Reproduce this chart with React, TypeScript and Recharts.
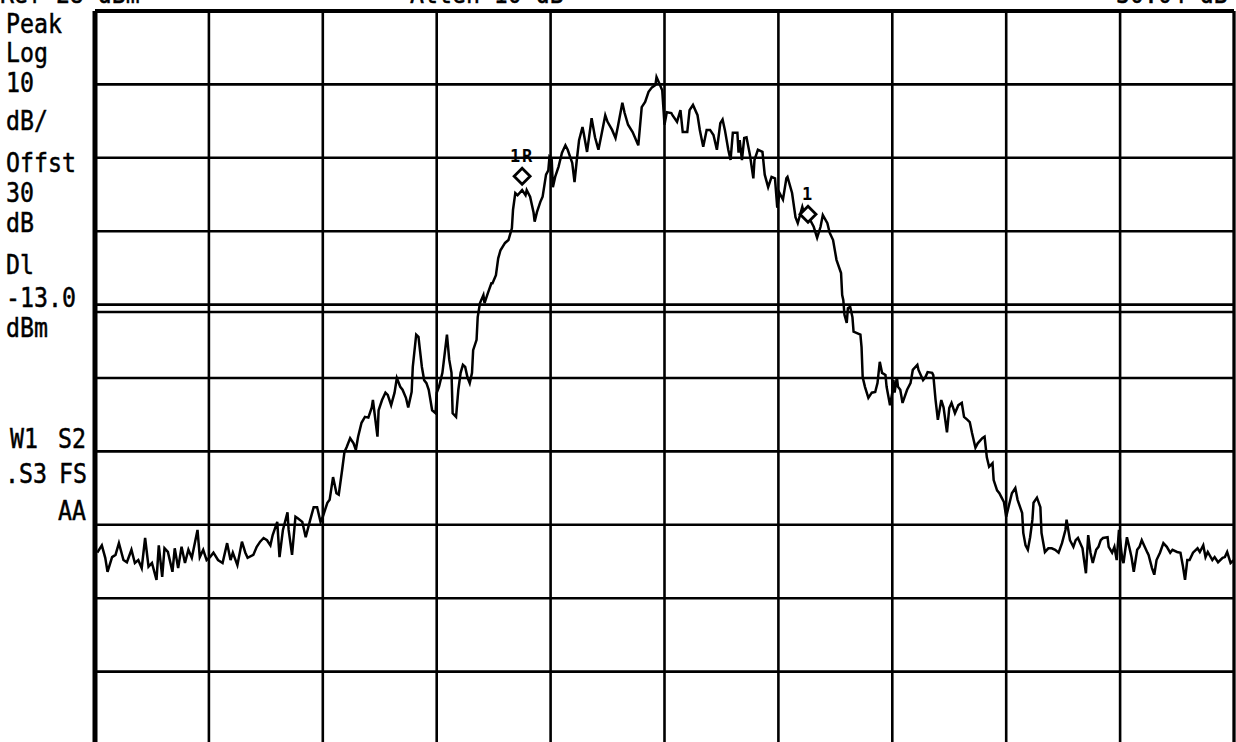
import React from "react";
import {
  ComposedChart,
  Line,
  XAxis,
  YAxis,
  CartesianGrid,
  ReferenceLine,
  ReferenceDot,
} from "recharts";

// trace points: x in 1/100 division (0..1000 across the screen), level in dBm
const freqPts = [
  2, 6, 9, 11, 15, 18, 21, 25, 28, 32, 35, 38, 41, 44, 47, 50, 54, 56, 59, 61,
  64, 68, 70, 73, 76, 79, 82, 85, 90, 92, 95, 98, 101, 104, 108, 112, 116, 119,
  121, 125, 129, 132, 134, 139, 142, 145, 148, 151, 154, 156, 160, 162, 165,
  169, 170, 173, 176, 178, 182, 185, 189, 192, 195, 198, 200, 204, 206, 209,
  212, 214, 217, 219, 221, 224, 227, 229, 231, 234, 237, 240, 243, 244, 248,
  249, 252, 255, 257, 260, 263, 265, 268, 270, 273, 275, 278, 279, 282, 284,
  285, 287, 289, 291, 293, 296, 299, 300, 302, 305, 306, 309, 311, 313, 314,
  317, 319, 321, 323, 325, 327, 329, 331, 332, 335, 336, 338, 341, 342, 345,
  348, 349, 352, 354, 356, 360, 363, 366, 367, 369, 371, 375, 378, 379, 382,
  385, 386, 388, 391, 393, 396, 398, 399, 401, 402, 404, 407, 410, 413, 415,
  419, 421, 423, 425, 428, 429, 432, 435, 436, 439, 442, 445, 448, 450, 454,
  457, 459, 463, 465, 468, 472, 477, 480, 483, 486, 489, 492, 493, 495, 498,
  500, 502, 506, 507, 511, 514, 516, 520, 522, 525, 529, 531, 534, 537, 540,
  543, 546, 549, 551, 553, 556, 558, 560, 564, 565, 566, 568, 570, 572, 575,
  578, 579, 582, 586, 588, 591, 594, 597, 599, 601, 604, 607, 608, 612, 615,
  617, 621, 623, 628, 631, 634, 637, 639, 643, 645, 648, 651, 655, 656, 657,
  658, 660, 661, 663, 665, 666, 669, 672, 673, 674, 676, 679, 682, 685, 687,
  689, 691, 694, 695, 698, 700, 701, 702, 704, 705, 707, 709, 713, 716, 718,
  722, 723, 727, 729, 731, 735, 736, 738, 740, 743, 745, 748, 750, 752, 755,
  758, 761, 763, 766, 768, 770, 773, 775, 779, 781, 783, 785, 788, 789, 792,
  794, 796, 798, 800, 802, 805, 808, 810, 814, 815, 817, 819, 821, 823, 824,
  827, 830, 831, 834, 837, 840, 843, 846, 849, 852, 853, 856, 859, 861, 863,
  867, 868, 870, 872, 874, 876, 879, 881, 883, 885, 889, 890, 893, 895, 897,
  899, 902, 903, 906, 908, 910, 912, 915, 917, 919, 921, 924, 925, 928, 930,
  932, 935, 938, 941, 944, 946, 950, 953, 955, 957, 959, 961, 964, 968, 970,
  973, 975, 977, 981, 983, 986, 990, 992, 994, 997, 1000,
];

const levelDbm = [
  -45.8, -44.8, -46.5, -48.4, -46.4, -46.1, -44.5, -46.8, -47.1, -45.4, -47.2,
  -46.8, -47.9, -43.8, -47.7, -47.2, -49.5, -44.8, -49.1, -45.2, -45.7, -48.4,
  -45.2, -47.9, -45.0, -47.2, -45.4, -46.5, -42.7, -46.4, -45.4, -46.8, -46.4,
  -45.8, -46.8, -47.2, -44.5, -46.8, -45.8, -47.5, -44.3, -45.8, -46.5, -46.1,
  -45.0, -44.3, -43.8, -44.1, -44.8, -43.4, -41.6, -46.4, -42.7, -40.3, -42.7,
  -46.1, -40.9, -41.1, -41.6, -43.7, -41.3, -39.6, -39.6, -41.6, -40.9, -39.0,
  -38.6, -35.5, -37.7, -37.9, -34.5, -32.1, -31.4, -30.2, -30.9, -31.8, -30.0,
  -28.1, -27.3, -27.4, -26.0, -25.0, -30.0, -26.4, -25.0, -24.0, -24.3, -25.7,
  -24.0, -22.0, -23.2, -23.6, -24.7, -26.0, -23.9, -20.5, -16.1, -16.4, -17.8,
  -20.5, -22.3, -22.7, -23.6, -26.4, -26.8, -24.0, -23.2, -21.3, -20.0, -16.1,
  -19.5, -21.3, -26.8, -27.3, -23.6, -21.3, -20.2, -20.5, -21.9, -22.7, -21.3,
  -18.2, -16.8, -13.7, -11.8, -10.7, -11.8, -10.4, -9.1, -9.1, -8.0, -5.7,
  -4.6, -3.6, -3.2, -1.6, 0.9, 3.2, 2.9, 3.6, 2.9, 3.6, 2.7, 0.6, -0.7, 0.6,
  2.0, 2.7, 5.7, 6.3, 8.1, 7.7, 4.0, 5.4, 6.8, 8.7, 9.7, 9.1, 7.3, 4.7, 7.7,
  10.4, 12.2, 11.4, 8.8, 12.2, 13.4, 10.8, 9.1, 11.4, 13.8, 12.9, 11.8, 10.7,
  12.2, 15.5, 14.1, 12.5, 11.5, 9.7, 14.9, 15.6, 17.0, 17.6, 17.9, 19.0, 18.3,
  17.2, 12.5, 14.2, 14.1, 13.8, 12.9, 14.5, 11.5, 11.5, 14.5, 15.2, 13.8, 11.8,
  9.5, 11.8, 11.8, 11.1, 9.1, 12.7, 13.2, 11.8, 9.1, 7.7, 11.4, 11.4, 8.7,
  10.4, 7.7, 10.7, 10.8, 8.4, 5.2, 7.7, 9.1, 8.8, 5.7, 4.0, 5.4, 5.2, 1.2, 3.2,
  2.3, 5.2, 5.4, 3.2, -0.1, -0.9, 1.3, 0.2, -0.5, -1.4, -2.9, -1.4, 0.2, -0.9,
  -2.2, -3.2, -5.9, -7.7, -10.7, -11.4, -13.4, -14.5, -12.5, -12.3, -13.7,
  -15.7, -15.9, -16.1, -17.8, -21.9, -23.2, -24.7, -24.0, -23.9, -22.7, -19.8,
  -21.3, -21.6, -23.2, -25.7, -24.0, -22.3, -24.0, -21.9, -23.2, -23.6, -25.4,
  -23.6, -22.7, -20.9, -20.2, -20.9, -22.3, -21.9, -21.2, -21.3, -21.6, -25.0,
  -27.7, -25.0, -26.0, -29.4, -26.1, -25.4, -26.8, -25.7, -25.4, -27.3, -27.7,
  -28.0, -29.5, -31.5, -30.9, -30.2, -30.0, -32.8, -34.1, -33.6, -35.9, -37.3,
  -37.7, -38.3, -38.9, -40.9, -39.6, -37.7, -37.0, -38.6, -40.4, -43.1, -44.8,
  -45.4, -43.7, -41.3, -39.0, -38.3, -39.6, -43.1, -45.7, -45.2, -45.2, -45.4,
  -45.8, -44.5, -42.7, -41.3, -44.1, -45.0, -44.1, -43.8, -45.2, -46.4, -48.6,
  -43.4, -45.8, -47.2, -45.4, -45.0, -44.1, -43.8, -43.7, -45.0, -45.8, -45.0,
  -46.8, -42.7, -46.8, -47.2, -43.7, -45.0, -46.4, -48.4, -45.4, -45.0, -44.1,
  -44.8, -45.8, -46.1, -47.9, -48.8, -46.8, -45.8, -44.5, -45.0, -45.8, -45.4,
  -45.7, -45.8, -47.5, -49.5, -46.8, -46.8, -45.8, -45.2, -45.7, -44.8, -46.4,
  -45.7, -46.8, -46.4, -47.1, -46.5, -46.4, -45.7, -47.2, -46.8,
];

const xTicks = [0, 100, 200, 300, 400, 500, 600, 700, 800, 900, 1000];
const yTicks = [28, 18, 8, -2, -12, -22, -32, -42, -52, -62, -72];
const displayLine = -13;

const markerNames = ["1R", "1"];
const markerFreq = [375, 626];
const markerLevel = [5.5, 0.3];

const sideLabels = [
  "Peak", "Log", "10", "dB/", "Offst", "30", "dB", "Dl", "-13.0", "dBm",
];
const sideBaselines = [33, 62, 92, 130, 172, 202, 232, 274, 307, 337];

// top status line, mostly scrolled off the top of the screen
const headerTexts = ["Ref 28 dBm", "Atten 10 dB", "-30.04 dB"];

const traceData = freqPts.map((f, i) => ({ f, v: levelDbm[i] }));

const FONT = "'DejaVu Sans Mono', monospace";

const Label = ({ x, y, children }: { x: number; y: number; children: React.ReactNode }) => (
  <text
    transform={`translate(${x},${y}) scale(0.86,1)`}
    fontFamily={FONT}
    fontSize={27}
    fill="#000"
    stroke="#000"
    strokeWidth={0.5}
  >
    {children}
  </text>
);

const makeDiamond = (name: string) => (p: any) => {
  const { cx, cy } = p;
  const s = 8;
  return (
    <g>
      <path
        d={`M${cx},${cy - s} L${cx + s},${cy} L${cx},${cy + s} L${cx - s},${cy} Z`}
        fill="#fff"
        stroke="#000"
        strokeWidth={2.8}
      />
      <text
        x={cx}
        y={cy - 14}
        textAnchor="middle"
        fontFamily={FONT}
        fontWeight="bold"
        fontSize={17}
        letterSpacing={2}
        fill="#000"
      >
        {name}
      </text>
    </g>
  );
};

export default function App() {
  return (
    <div
      style={{
        position: "absolute",
        left: 0,
        top: 0,
        width: 1236,
        height: 742,
        overflow: "hidden",
        background: "#fff",
      }}
    >
      <ComposedChart
        width={1236}
        height={760}
        data={traceData}
        margin={{ top: 11, right: 2, bottom: 15, left: 95 }}
      >
        <XAxis dataKey="f" type="number" domain={[0, 1000]} ticks={xTicks} hide />
        <YAxis type="number" domain={[-72, 28]} ticks={yTicks} hide />
        <CartesianGrid stroke="#000" strokeWidth={2.6} />
        <ReferenceLine x={0} stroke="#000" strokeWidth={5} />
        <ReferenceLine x={1000} stroke="#000" strokeWidth={3} />
        <ReferenceLine y={28} stroke="#000" strokeWidth={4} />
        <ReferenceLine y={displayLine} stroke="#000" strokeWidth={2.4} />
        <Line
          type="linear"
          dataKey="v"
          stroke="#000"
          strokeWidth={2.5}
          dot={false}
          isAnimationActive={false}
        />
        {markerNames.map((n, i) => (
          <ReferenceDot
            key={n}
            x={markerFreq[i]}
            y={markerLevel[i]}
            shape={makeDiamond(n)}
          />
        ))}
      </ComposedChart>
      <svg
        width={1236}
        height={742}
        style={{ position: "absolute", left: 0, top: 0, pointerEvents: "none" }}
      >
        <Label x={0} y={3}>{headerTexts[0]}</Label>
        <Label x={410} y={3}>{headerTexts[1]}</Label>
        <Label x={1102} y={3}>{headerTexts[2]}</Label>
        {sideLabels.map((t, i) => (
          <Label key={t} x={6} y={sideBaselines[i]}>
            {t}
          </Label>
        ))}
        <Label x={10} y={448}>W1</Label>
        <Label x={58} y={448}>S2</Label>
        <Label x={5} y={483}>.S3</Label>
        <Label x={59} y={483}>FS</Label>
        <Label x={58} y={520}>AA</Label>
      </svg>
    </div>
  );
}
